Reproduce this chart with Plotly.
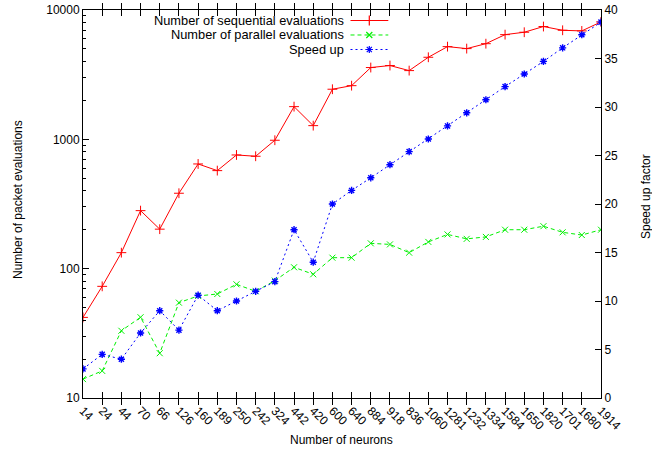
import plotly.graph_objects as go

# Network size (number of neurons) for each experiment, in run order
neurons = ["14", "24", "44", "70", "66", "126", "160", "189", "250", "242",
           "324", "442", "420", "600", "640", "884", "918", "836", "1060", "1281",
           "1232", "1334", "1584", "1650", "1820", "1701", "1680", "1914"]

# Packet evaluations needed (left, log axis)
sequential_evals = [42, 73, 133, 281, 202, 383, 645, 573, 757, 740,
                    984, 1790, 1276, 2440, 2600, 3590, 3720, 3400, 4310, 5210,
                    5030, 5490, 6450, 6730, 7450, 6970, 6890, 8090]
parallel_evals = [14.0, 16.2, 33.1, 42.1, 22.2, 54.6, 61.5, 63.7, 75.7, 66.8,
                  80.8, 102.5, 90.5, 121.6, 121.6, 157, 154, 133, 161, 184,
                  170, 176, 200, 200, 213, 191, 182, 200]

# Speed-up factor (right axis)
speed_up = [3.0, 4.5, 4.0, 6.7, 9.0, 7.0, 10.6, 9.0, 10.0, 11.0,
            12.0, 17.35, 14.0, 20.0, 21.4, 22.7, 24.05, 25.4, 26.7, 28.05,
            29.4, 30.75, 32.1, 33.4, 34.7, 36.1, 37.45, 38.75]

series_names = ["Number of sequential evaluations",
                "Number of parallel evaluations",
                "Speed up"]

RED, GREEN, BLUE = "#ff0000", "#00f000", "#0000ff"
FONT = "Liberation Sans, Arial, sans-serif"

fig = go.Figure()

fig.add_trace(go.Scatter(
    x=neurons, y=sequential_evals, mode="lines+markers", name=series_names[0],
    line=dict(color=RED, width=1),
    marker=dict(symbol="cross-thin-open", size=7, line=dict(color=RED, width=1)),
    showlegend=False))
fig.add_trace(go.Scatter(
    x=neurons, y=parallel_evals, mode="lines+markers", name=series_names[1],
    line=dict(color=GREEN, width=1, dash="4px,3px"),
    marker=dict(symbol="x-thin-open", size=6, line=dict(color=GREEN, width=1)),
    showlegend=False))
fig.add_trace(go.Scatter(
    x=neurons, y=speed_up, mode="lines+markers", name=series_names[2],
    yaxis="y2",
    line=dict(color=BLUE, width=1, dash="2px,3px"),
    marker=dict(symbol="asterisk-open", size=6, line=dict(color=BLUE, width=1.4)),
    showlegend=False))

# Key in the top right corner: right-aligned text with the sample line after it
key_rows = [0.9729, 0.9356, 0.8982]
key_styles = [
    (RED, None, "cross-thin-open", 7),
    (GREEN, "4px,3px", "x-thin-open", 6),
    (BLUE, "2px,3px", "asterisk-open", 6),
]
for name, yk, (col, dash, sym, sz) in zip(series_names, key_rows, key_styles):
    fig.add_trace(go.Scatter(
        x=[0.5164, 0.5527, 0.5894], y=[yk, yk, yk], xaxis="x3", yaxis="y3",
        mode="lines+markers", hoverinfo="skip", showlegend=False,
        line=dict(color=col, width=1, dash=dash),
        marker=dict(symbol=sym, size=sz, line=dict(color=col, width=1.2),
                    opacity=[0, 1, 0])))
    fig.add_annotation(text=name, xref="paper", yref="paper", x=0.5055, y=yk,
                       xanchor="right", yanchor="middle", showarrow=False,
                       borderpad=0,
                       font=dict(family=FONT, size=12.8, color="#000000"))

minor_vals = [m * 10 ** e for e in (1, 2, 3) for m in range(2, 10)]

fig.update_layout(
    width=652, height=454,
    margin=dict(l=83, r=51, t=10, b=56, autoexpand=False),
    paper_bgcolor="white", plot_bgcolor="white",
    font=dict(family=FONT, size=12, color="#000000"),
    xaxis=dict(
        type="category", range=[0, len(neurons) - 1], automargin=False,
        tickmode="array", tickvals=neurons, ticktext=neurons,
        tickangle=45, ticks="inside", ticklen=6, tickcolor="#000000",
        showline=True, linecolor="#000000", linewidth=1, mirror="allticks",
        showgrid=False, zeroline=False, tickfont=dict(size=12)),
    yaxis=dict(
        type="log", range=[1, 4], automargin=False,
        tickmode="array", tickvals=[10, 100, 1000, 10000],
        ticktext=["10", "100", "1000", "10000"],
        ticks="inside", ticklen=6, tickcolor="#000000",
        minor=dict(tickvals=minor_vals, ticks="inside", ticklen=3,
                   tickcolor="#000000", showgrid=False),
        showline=True, linecolor="#000000", linewidth=1,
        showgrid=False, zeroline=False, tickfont=dict(size=12)),
    yaxis2=dict(
        overlaying="y", side="right", range=[0, 40], dtick=5, automargin=False,
        ticks="inside", ticklen=6, tickcolor="#000000",
        showline=True, linecolor="#000000", linewidth=1,
        showgrid=False, zeroline=False, tickfont=dict(size=12)),
    xaxis3=dict(overlaying="x", range=[0, 1], visible=False, automargin=False),
    yaxis3=dict(overlaying="y", range=[0, 1], visible=False, anchor="x3",
                automargin=False),
    annotations=list(fig.layout.annotations) + [
        dict(text="Number of neurons", xref="paper", yref="paper",
             x=(341.7 - 83) / 518, y=(398 - 440) / 388,
             xanchor="center", yanchor="middle", showarrow=False,
             font=dict(family=FONT, size=12)),
        dict(text="Number of packet evaluations", xref="paper", yref="paper",
             x=(18 - 83) / 518, y=(398 - 200) / 388, textangle=-90,
             xanchor="center", yanchor="middle", showarrow=False,
             font=dict(family=FONT, size=12)),
        dict(text="Speed up factor", xref="paper", yref="paper",
             x=(646 - 83) / 518, y=(398 - 197) / 388, textangle=-90,
             xanchor="center", yanchor="middle", showarrow=False,
             font=dict(family=FONT, size=12)),
    ],
)

fig.write_html("out.html")
